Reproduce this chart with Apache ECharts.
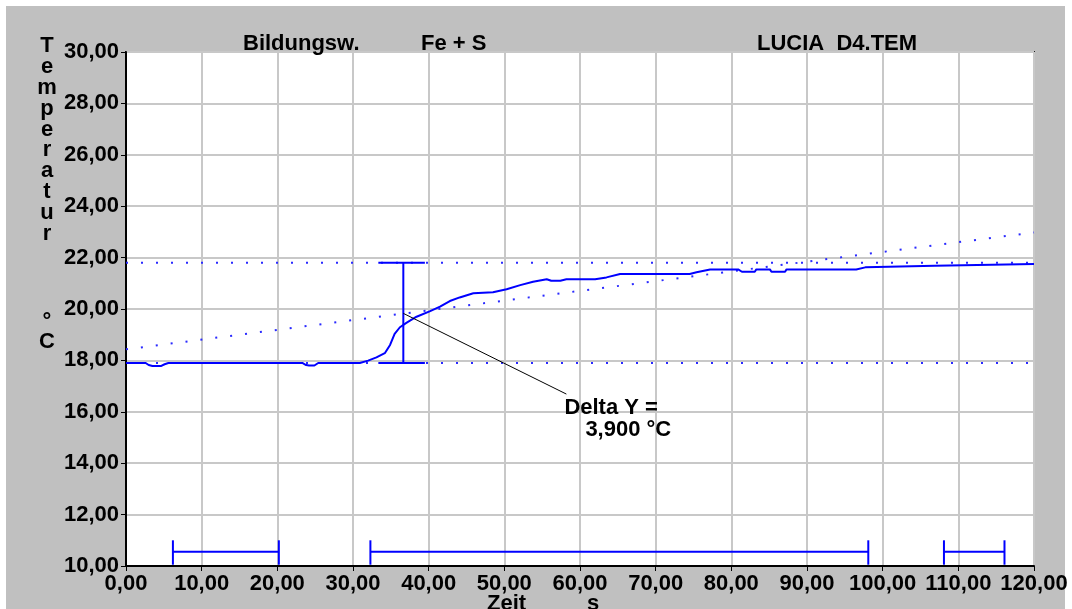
<!DOCTYPE html>
<html><head><meta charset="utf-8">
<script src="https://cdn.jsdelivr.net/npm/echarts@6/dist/echarts.min.js"></script>
<style>
html,body{margin:0;padding:0;background:#fff;}
#bg{position:absolute;left:6px;top:6px;width:1059px;height:603px;background:#c0c0c0;}
#c{position:absolute;left:0;top:0;width:1072px;height:609px;}
</style>
</head><body><div id="bg"></div><div id="c"></div>
<script>
// ---- data ----
const tempCurve = [
  [0,17.9],[2.6,17.9],[3.0,17.82],[3.5,17.78],[4.6,17.78],[5.1,17.85],[5.6,17.9],
  [23.3,17.9],[23.8,17.82],[24.2,17.8],[24.9,17.8],[25.4,17.9],[30.9,17.9],
  [32.0,17.99],[33.1,18.12],[34.2,18.28],[34.9,18.6],[35.5,19.03],[36.2,19.29],
  [37.1,19.47],[38.4,19.7],[40.2,19.92],[41.5,20.09],[42.8,20.31],[44.1,20.45],
  [45.9,20.61],[48.5,20.65],[50.3,20.77],[52.1,20.93],[53.8,21.06],[55.6,21.16],
  [56.2,21.1],[57.4,21.1],[58.2,21.16],[62.0,21.16],[63.5,21.23],[65.3,21.36],
  [74.5,21.36],[75.4,21.43],[77.2,21.54],[80.9,21.54],[81.4,21.45],[83.1,21.45],
  [83.3,21.54],[85.1,21.54],[85.3,21.45],[87.1,21.45],[87.3,21.54],[96.5,21.54],
  [97.7,21.62],[97.9,21.68],[106.9,21.68],[107.1,21.75],[120,21.75]
];
const upperLevel = 21.8;
const lowerLevel = 17.9;
const trendLine = [[0,18.43],[120,22.98]];
const deltaX = 36.65;
const deltaLow = 17.9;
const deltaHigh = 21.8;
const deltaCap = [33.35, 39.5];
const leaderLine = [[36.65,19.83],[58.2,16.69]];
const deltaText = ['Delta Y =', '3,900 °C'];
const rangeBars = [[6.2,20.2],[32.3,98.1],[108.1,116.1]];
const rangeLevel = 10.55;
const rangeTick = [10.05, 11.0];
const xRange = [0, 120, 10];
const yRange = [10, 30, 2];
const titleTexts = ['Bildungsw.', 'Fe + S', 'LUCIA  D4.TEM'];
const yName = 'Temperatur';
const yUnit = ['°', 'C'];
const xName = ['Zeit', 's'];

// ---- chart ----
const FONT = '"Liberation Sans", Arial, sans-serif';
const BLUE = '#0000ff';
const chart = echarts.init(document.getElementById('c'), null, {renderer:'canvas'});

function seg(p1, p2, color, width, type, z) {
  return {type:'line', data:[p1,p2], symbol:'none', silent:true, animation:false, z:z||3,
    lineStyle:{color:color, width:width, type:type||'solid', cap:'butt'}};
}
const series = [];
series.push(seg([xRange[0],upperLevel],[xRange[1],upperLevel],'#2a2aff',2,[2,13],2));
series.push(seg([xRange[0],lowerLevel],[xRange[1],lowerLevel],'#2a2aff',2,[2,13],2));
series.push(seg(trendLine[0],trendLine[1],'#2a2aff',2,[2,13],2));
series.push({type:'line', data:tempCurve, symbol:'none', silent:true, animation:false, z:4,
  lineStyle:{color:BLUE, width:2}});
series.push(seg([deltaX,deltaLow],[deltaX,deltaHigh],BLUE,2));
series.push(seg([deltaCap[0],deltaLow],[deltaCap[1],deltaLow],BLUE,2));
series.push(seg([deltaCap[0],deltaHigh],[deltaCap[1],deltaHigh],BLUE,2));
series.push(seg(leaderLine[0],leaderLine[1],'#000',1,'solid',5));
rangeBars.forEach(([a,b])=>{
  series.push(seg([a,rangeLevel],[b,rangeLevel],BLUE,2));
  series.push(seg([a,rangeTick[0]],[a,rangeTick[1]],BLUE,2));
  series.push(seg([b,rangeTick[0]],[b,rangeTick[1]],BLUE,2));
});

const fmt = v => v.toFixed(2).replace('.', ',');
const labelStyle = {color:'#000', fontFamily:FONT, fontWeight:'bold', fontSize:22};

chart.setOption({
  animation:false,
  backgroundColor:'transparent',
  grid:{left:126, right:38, top:52, bottom:43, show:true, backgroundColor:'#fff',
        borderColor:'#202020', borderWidth:2},
  xAxis:{type:'value', min:xRange[0], max:xRange[1], interval:xRange[2],
    axisLine:{show:true, onZero:false, lineStyle:{color:'#000', width:2}},
    axisTick:{show:true, length:5, lineStyle:{color:'#000', width:1}},
    axisLabel:Object.assign({margin:7, formatter:fmt}, labelStyle),
    splitLine:{show:true, lineStyle:{color:'#c8c8c8', width:2}}},
  yAxis:{type:'value', min:yRange[0], max:yRange[1], interval:yRange[2],
    axisLine:{show:true, onZero:false, lineStyle:{color:'#000', width:2}},
    axisTick:{show:true, length:5, lineStyle:{color:'#000', width:1}},
    axisLabel:Object.assign({margin:7, formatter:fmt}, labelStyle),
    splitLine:{show:true, lineStyle:{color:'#c8c8c8', width:2}}},
  series:series
});

const anchor = chart.convertToPixel({gridIndex:0}, leaderLine[1]);
const txt = (t, x, y, align, extra) => ({type:'text', silent:true, z:10,
  style:Object.assign({text:t, x:x, y:y, fill:'#000', font:'bold 22px ' + FONT,
    textAlign:align||'left', textVerticalAlign:'middle'}, extra||{})});
chart.setOption({graphic:[
  txt(titleTexts[0], 243, 44),
  txt(titleTexts[1], 421, 44),
  txt(titleTexts[2], 757, 44),
  txt(yName.split('').join('\n'), 47, 140, 'center', {lineHeight:20.8}),
  txt(yUnit[0], 47, 322, 'center'),
  txt(yUnit[1], 47, 342, 'center'),
  txt(xName[0], 487, 604),
  txt(xName[1], 587, 604),
  txt(deltaText[0], anchor[0]-2, anchor[1]+14),
  txt(deltaText[1], anchor[0]+19, anchor[1]+36)
]});
</script></body></html>
